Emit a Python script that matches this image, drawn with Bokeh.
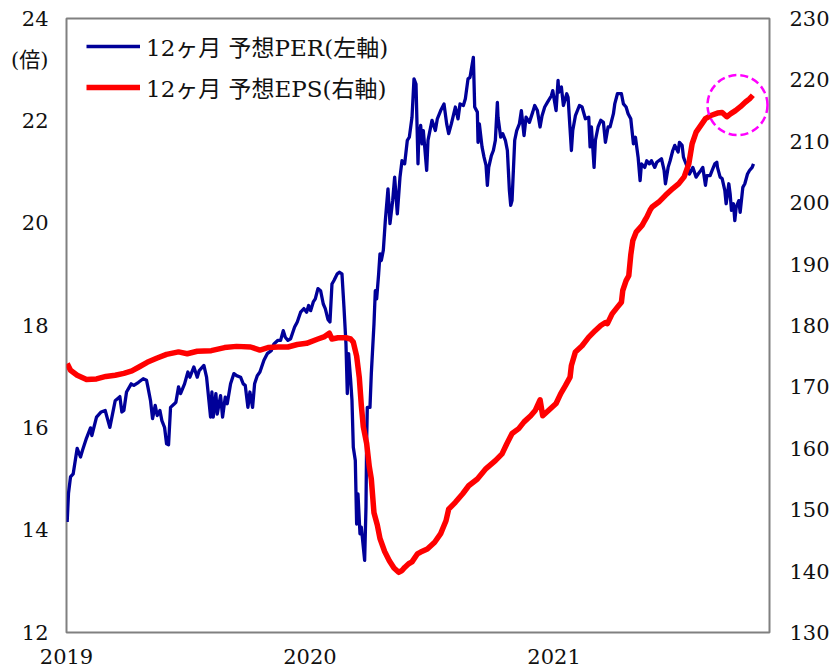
import pandas as pd
from bokeh.plotting import figure
from bokeh.models import (Range1d, LinearAxis, FixedTicker, DatetimeTickFormatter,
                          Legend, LegendItem)
from bokeh.embed import file_html
from bokeh.resources import INLINE

# ---------------- data ----------------
per_dates = [
    "2019-01-02", "2019-01-04", "2019-01-07", "2019-01-11", "2019-01-17", "2019-01-22", "2019-01-25",
    "2019-01-31", "2019-02-06", "2019-02-08", "2019-02-15", "2019-02-22", "2019-02-28", "2019-03-07",
    "2019-03-13", "2019-03-15", "2019-03-22", "2019-03-25", "2019-03-28", "2019-04-01", "2019-04-08",
    "2019-04-12", "2019-04-19", "2019-04-26", "2019-05-01", "2019-05-03", "2019-05-07", "2019-05-10",
    "2019-05-14", "2019-05-17", "2019-05-21", "2019-05-24", "2019-05-28", "2019-05-31", "2019-06-03",
    "2019-06-06", "2019-06-11", "2019-06-14", "2019-06-18", "2019-06-21", "2019-06-27", "2019-07-02",
    "2019-07-05", "2019-07-11", "2019-07-16", "2019-07-19", "2019-07-26", "2019-07-30", "2019-08-05",
    "2019-08-07", "2019-08-09", "2019-08-13", "2019-08-15", "2019-08-20", "2019-08-23", "2019-08-27",
    "2019-08-30", "2019-09-04", "2019-09-09", "2019-09-13", "2019-09-19", "2019-09-23", "2019-09-26",
    "2019-09-30", "2019-10-03", "2019-10-07", "2019-10-10", "2019-10-14", "2019-10-18", "2019-10-24",
    "2019-10-29", "2019-11-04", "2019-11-08", "2019-11-14", "2019-11-18", "2019-11-22", "2019-11-25",
    "2019-11-29", "2019-12-03", "2019-12-09", "2019-12-13", "2019-12-18", "2019-12-23", "2019-12-27",
    "2019-12-30",
    "2020-01-02", "2020-01-06", "2020-01-09", "2020-01-13", "2020-01-17", "2020-01-21", "2020-01-24",
    "2020-01-28", "2020-01-31", "2020-02-03", "2020-02-06", "2020-02-11", "2020-02-14", "2020-02-18",
    "2020-02-21", "2020-02-24", "2020-02-26", "2020-02-28", "2020-03-02", "2020-03-04", "2020-03-06",
    "2020-03-09", "2020-03-11", "2020-03-13", "2020-03-16", "2020-03-18", "2020-03-23", "2020-03-25",
    "2020-03-26", "2020-03-27", "2020-03-31", "2020-04-02", "2020-04-06", "2020-04-08", "2020-04-10",
    "2020-04-13", "2020-04-15", "2020-04-17", "2020-04-20", "2020-04-23", "2020-04-27", "2020-04-30",
    "2020-05-04", "2020-05-07", "2020-05-11", "2020-05-15", "2020-05-18", "2020-05-22", "2020-05-26",
    "2020-05-29", "2020-06-02", "2020-06-05", "2020-06-08", "2020-06-11", "2020-06-12", "2020-06-15",
    "2020-06-17", "2020-06-19", "2020-06-24", "2020-06-26", "2020-07-02", "2020-07-07", "2020-07-10",
    "2020-07-15", "2020-07-20", "2020-07-24", "2020-07-27", "2020-07-31", "2020-08-06", "2020-08-10",
    "2020-08-13", "2020-08-18", "2020-08-21", "2020-08-25", "2020-08-28", "2020-09-02", "2020-09-04",
    "2020-09-08", "2020-09-09", "2020-09-11", "2020-09-15", "2020-09-18", "2020-09-21", "2020-09-23",
    "2020-09-25", "2020-09-29", "2020-10-02", "2020-10-05", "2020-10-08", "2020-10-09", "2020-10-13",
    "2020-10-16", "2020-10-20", "2020-10-23", "2020-10-26", "2020-10-28", "2020-10-30", "2020-11-03",
    "2020-11-06", "2020-11-10", "2020-11-13", "2020-11-17", "2020-11-20", "2020-11-25", "2020-11-30",
    "2020-12-03", "2020-12-07", "2020-12-11", "2020-12-14", "2020-12-18", "2020-12-22", "2020-12-28",
    "2020-12-30",
    "2021-01-04", "2021-01-07", "2021-01-08", "2021-01-12", "2021-01-15", "2021-01-20", "2021-01-22",
    "2021-01-27", "2021-01-29", "2021-02-02", "2021-02-08", "2021-02-12", "2021-02-17", "2021-02-22",
    "2021-02-24", "2021-02-26", "2021-03-02", "2021-03-04", "2021-03-08", "2021-03-12", "2021-03-16",
    "2021-03-19", "2021-03-23", "2021-03-26", "2021-03-31", "2021-04-02", "2021-04-06", "2021-04-12",
    "2021-04-15", "2021-04-19", "2021-04-22", "2021-04-26", "2021-04-30", "2021-05-03", "2021-05-07",
    "2021-05-10", "2021-05-12", "2021-05-17", "2021-05-20", "2021-05-24", "2021-05-27", "2021-06-01",
    "2021-06-04", "2021-06-07", "2021-06-11", "2021-06-15", "2021-06-17", "2021-06-21", "2021-06-24",
    "2021-06-28", "2021-07-01", "2021-07-06", "2021-07-08", "2021-07-12", "2021-07-14", "2021-07-16",
    "2021-07-20", "2021-07-23", "2021-07-28", "2021-08-02", "2021-08-05", "2021-08-09", "2021-08-12",
    "2021-08-16", "2021-08-18", "2021-08-23", "2021-08-26", "2021-08-30", "2021-09-02", "2021-09-03",
    "2021-09-07", "2021-09-10", "2021-09-14", "2021-09-16", "2021-09-20", "2021-09-22", "2021-09-24",
    "2021-09-27", "2021-09-29", "2021-10-01", "2021-10-05", "2021-10-07", "2021-10-11", "2021-10-14",
    "2021-10-18", "2021-10-21", "2021-10-25", "2021-10-27",
]
per_values = [
    14.16, 14.72, 15.04, 15.10, 15.60, 15.43, 15.56,
    15.80, 16.00, 15.85, 16.21, 16.31, 16.34, 16.01,
    16.40, 16.53, 16.61, 16.31, 16.34, 16.70, 16.86,
    16.83, 16.89, 16.96, 16.93, 16.80, 16.53, 16.18,
    16.44, 16.24, 16.34, 16.14, 16.01, 15.69, 15.67,
    16.40, 16.46, 16.50, 16.80, 16.67, 16.86, 17.09,
    16.99, 17.19, 16.99, 17.12, 17.22, 16.99, 16.21,
    16.70, 16.21, 16.67, 16.27, 16.63, 16.21, 16.60,
    16.47, 16.86, 17.06, 17.02, 16.99, 16.86, 16.83,
    16.40, 16.70, 16.40, 16.86, 17.02, 17.09, 17.32,
    17.45, 17.51, 17.64, 17.71, 17.71, 17.90, 17.77,
    17.71, 17.74, 17.97, 18.07, 18.26, 18.33, 18.26,
    18.39,
    18.29, 18.46, 18.52, 18.72, 18.68, 18.42, 18.33,
    18.12, 18.07, 18.81, 18.88, 19.01, 19.04, 19.01,
    18.36, 17.64, 16.67, 17.45, 16.93, 16.54, 15.62,
    15.36, 14.12, 14.71, 13.93, 14.06, 13.41, 14.45,
    15.75, 16.40, 16.40, 17.06, 18.03, 18.68, 18.52,
    19.01, 19.40, 19.27, 19.47, 20.05, 20.67, 19.99,
    20.44, 20.90, 20.18, 20.90, 21.22, 21.16, 21.62,
    21.68, 22.07, 22.82, 22.72, 21.16, 21.62, 21.91,
    21.55, 21.81, 21.03, 21.62, 22.01, 21.81, 22.04,
    22.20, 22.33, 21.94, 21.75, 21.94, 22.27, 22.04,
    22.33, 22.30, 22.43, 22.82, 22.85, 23.24, 22.27,
    22.17, 21.58, 21.94, 21.49, 21.29, 21.13, 20.74,
    21.09, 21.32, 21.42, 21.62, 22.36, 22.07, 21.68,
    21.75, 21.62, 21.42, 20.64, 20.35, 20.44, 21.62,
    21.81, 21.94, 22.20, 21.71, 22.07, 21.97, 22.17,
    22.30, 22.20, 21.88, 22.10, 22.27, 22.36, 22.49,
    22.59,
    22.20, 22.79, 22.56, 22.66, 22.30, 22.53, 22.46,
    21.42, 21.81, 22.10, 22.30, 22.27, 22.04, 22.07,
    21.49, 21.88, 21.09, 21.62, 21.88, 22.01, 21.97,
    21.58, 21.88, 21.88, 22.14, 22.33, 22.53, 22.53,
    22.33, 22.27, 22.14, 22.04, 21.55, 21.68, 21.29,
    20.83, 21.16, 21.09, 21.22, 21.16, 21.22, 21.09,
    21.19, 21.22, 21.26, 21.03, 20.77, 21.09, 21.22,
    21.42, 21.52, 21.39, 21.58, 21.52, 21.29, 21.22,
    21.09, 20.96, 21.09, 20.90, 20.96, 21.03, 21.09,
    20.74, 20.93, 20.93, 21.03, 21.16, 21.19, 21.09,
    20.90, 20.87, 20.64, 20.38, 20.77, 20.57, 20.25,
    20.38, 20.05, 20.31, 20.44, 20.21, 20.70, 20.77,
    20.96, 21.03, 21.09, 21.16,
]

eps_dates = [
    "2019-01-02", "2019-01-07", "2019-01-17", "2019-01-31", "2019-02-15", "2019-03-01", "2019-03-15",
    "2019-03-28", "2019-04-09", "2019-04-19", "2019-05-02", "2019-05-17", "2019-05-31", "2019-06-18",
    "2019-07-01", "2019-07-16", "2019-08-06", "2019-08-26", "2019-09-13", "2019-10-04", "2019-10-18",
    "2019-10-30", "2019-11-14", "2019-11-29", "2019-12-13", "2019-12-27",
    "2020-01-13", "2020-01-23", "2020-01-30", "2020-02-03", "2020-02-12", "2020-02-24", "2020-03-02",
    "2020-03-06", "2020-03-11", "2020-03-15", "2020-03-18", "2020-03-21", "2020-03-26", "2020-03-30",
    "2020-04-02", "2020-04-06", "2020-04-11", "2020-04-15", "2020-04-22", "2020-04-29", "2020-05-06",
    "2020-05-13", "2020-05-18", "2020-05-22", "2020-05-28", "2020-06-02", "2020-06-10", "2020-06-15",
    "2020-06-25", "2020-07-06", "2020-07-15", "2020-07-23", "2020-07-27", "2020-08-06", "2020-08-17",
    "2020-08-26", "2020-09-08", "2020-09-21", "2020-10-05", "2020-10-15", "2020-10-22", "2020-10-30",
    "2020-11-09", "2020-11-17", "2020-11-27", "2020-12-04", "2020-12-11", "2020-12-15", "2020-12-24",
    "2021-01-04", "2021-01-11", "2021-01-18", "2021-01-25", "2021-01-27", "2021-02-02", "2021-02-12",
    "2021-02-22", "2021-03-04", "2021-03-12", "2021-03-19", "2021-03-22", "2021-03-29", "2021-04-06",
    "2021-04-12", "2021-04-14", "2021-04-19", "2021-04-23", "2021-04-26", "2021-04-29", "2021-05-04",
    "2021-05-13", "2021-05-17", "2021-05-20", "2021-05-25", "2021-05-28", "2021-06-07", "2021-06-17",
    "2021-06-28", "2021-07-07", "2021-07-15", "2021-07-22", "2021-07-27", "2021-08-02", "2021-08-09",
    "2021-08-16", "2021-08-24", "2021-09-03", "2021-09-10", "2021-09-17", "2021-09-23", "2021-09-30",
    "2021-10-07", "2021-10-15", "2021-10-21", "2021-10-26",
]
eps_values = [
    173.8, 172.7, 171.9, 171.2, 171.3, 171.7, 171.9,
    172.2, 172.6, 173.2, 174.0, 174.7, 175.3, 175.7,
    175.4, 175.8, 175.9, 176.4, 176.6, 176.5, 176.0,
    176.4, 176.5, 176.5, 176.9, 177.1,
    177.8, 178.2, 178.75, 177.8, 178.0, 178.0, 177.8,
    177.3, 175.0, 171.5, 167.0, 163.5, 160.8, 157.0,
    155.0, 149.5, 147.5, 145.3, 143.2, 141.7, 140.5,
    139.8, 140.1, 140.6, 141.2, 141.5, 142.8, 143.1,
    143.6, 144.7, 146.1, 148.2, 150.1, 151.2, 152.6,
    153.9, 155.0, 156.7, 158.0, 159.1, 160.7, 162.4,
    163.2, 164.3, 165.3, 166.2, 167.9, 165.3, 166.2,
    167.3, 168.9, 170.2, 171.6, 173.5, 175.7, 176.7,
    178.1, 179.2, 180.0, 180.5, 180.3, 181.9, 183.0,
    183.8, 185.7, 187.3, 188.1, 191.5, 193.8, 195.2,
    196.3, 197.1, 197.65, 198.8, 199.3, 200.1, 201.2,
    202.3, 203.1, 204.2, 206.3, 209.6, 211.5, 212.6,
    213.7, 214.2, 214.6, 214.7, 214.0, 214.5, 215.0,
    215.6, 216.4, 216.9, 217.5,
]

year_ticks = ["2019-01-01", "2020-01-01", "2021-01-01"]
x_start, x_end = "2019-01-01", "2021-11-20"
per_ticks = [12, 14, 16, 18, 20, 22, 24]
eps_ticks = [130, 140, 150, 160, 170, 180, 190, 200, 210, 220, 230]
per_label = "12ヶ月 予想PER(左軸)"
eps_label = "12ヶ月 予想EPS(右軸)"
unit_label = "(倍)"
unit_label_per = 23.18          # unit shown just below the top tick of the left axis
highlight_date, highlight_eps = "2021-10-03", 215.9

# ---------------- figure ----------------
MIXED = "DejaVu Serif, Noto Sans CJK JP"

p = figure(width=836, height=672, x_axis_type="datetime",
           x_range=Range1d(pd.Timestamp(x_start), pd.Timestamp(x_end)),
           y_range=Range1d(12, 24),
           output_backend="svg", toolbar_location=None,
           min_border_left=66, min_border_right=67, min_border_top=18, min_border_bottom=40)
p.extra_y_ranges = {"eps": Range1d(130, 230)}
p.grid.visible = False
p.background_fill_color = "white"
p.border_fill_color = "white"
p.outline_line_color = "#808080"
p.outline_line_width = 2

ms_ticks = [pd.Timestamp(d).value // 10**6 for d in year_ticks]
p.xaxis.ticker = FixedTicker(ticks=ms_ticks)
p.xaxis.formatter = DatetimeTickFormatter(years="%Y", months="%Y", days="%Y", hours="%Y",
                                          minutes="%Y", seconds="%Y", milliseconds="%Y",
                                          microseconds="%Y", minsec="%Y", hourmin="%Y")
p.yaxis.ticker = FixedTicker(ticks=per_ticks + [unit_label_per])
p.yaxis.major_label_overrides = {unit_label_per: unit_label}

right_axis = LinearAxis(y_range_name="eps", ticker=FixedTicker(ticks=eps_ticks))
p.add_layout(right_axis, "right")

for ax in p.xaxis + p.yaxis + [right_axis]:
    ax.axis_line_color = None
    ax.major_tick_line_color = None
    ax.minor_tick_line_color = None
    ax.major_tick_out = 0
    ax.major_tick_in = 0
    ax.major_label_text_font = MIXED
    ax.major_label_text_font_size = "21px"
    ax.major_label_text_color = "#111111"
p.xaxis.major_label_standoff = 16
p.yaxis.major_label_standoff = 18
right_axis.major_label_standoff = 20

per_x = pd.to_datetime(per_dates)
eps_x = pd.to_datetime(eps_dates)

r_per = p.line(per_x, per_values, line_color="#000099", line_width=3.3, line_join="round")
r_eps = p.line(eps_x, eps_values, line_color="#FF0000", line_width=5.5, line_join="round",
               y_range_name="eps")

p.scatter([pd.Timestamp(highlight_date)], [highlight_eps], marker="circle", size=60,
          fill_color=None, line_color="#FF00FF", line_width=2.5, line_dash="8 4",
          y_range_name="eps")

legend = Legend(items=[LegendItem(label=per_label, renderers=[r_per]),
                       LegendItem(label=eps_label, renderers=[r_eps])],
                location=(20, 528), border_line_color=None, background_fill_alpha=0,
                label_text_font=MIXED, label_text_font_size="23px", label_text_color="#111111",
                glyph_width=54, glyph_height=28, label_height=28, label_standoff=6,
                spacing=7, padding=10, margin=0)
p.add_layout(legend)

open("out.html", "w").write(file_html(p, INLINE))
